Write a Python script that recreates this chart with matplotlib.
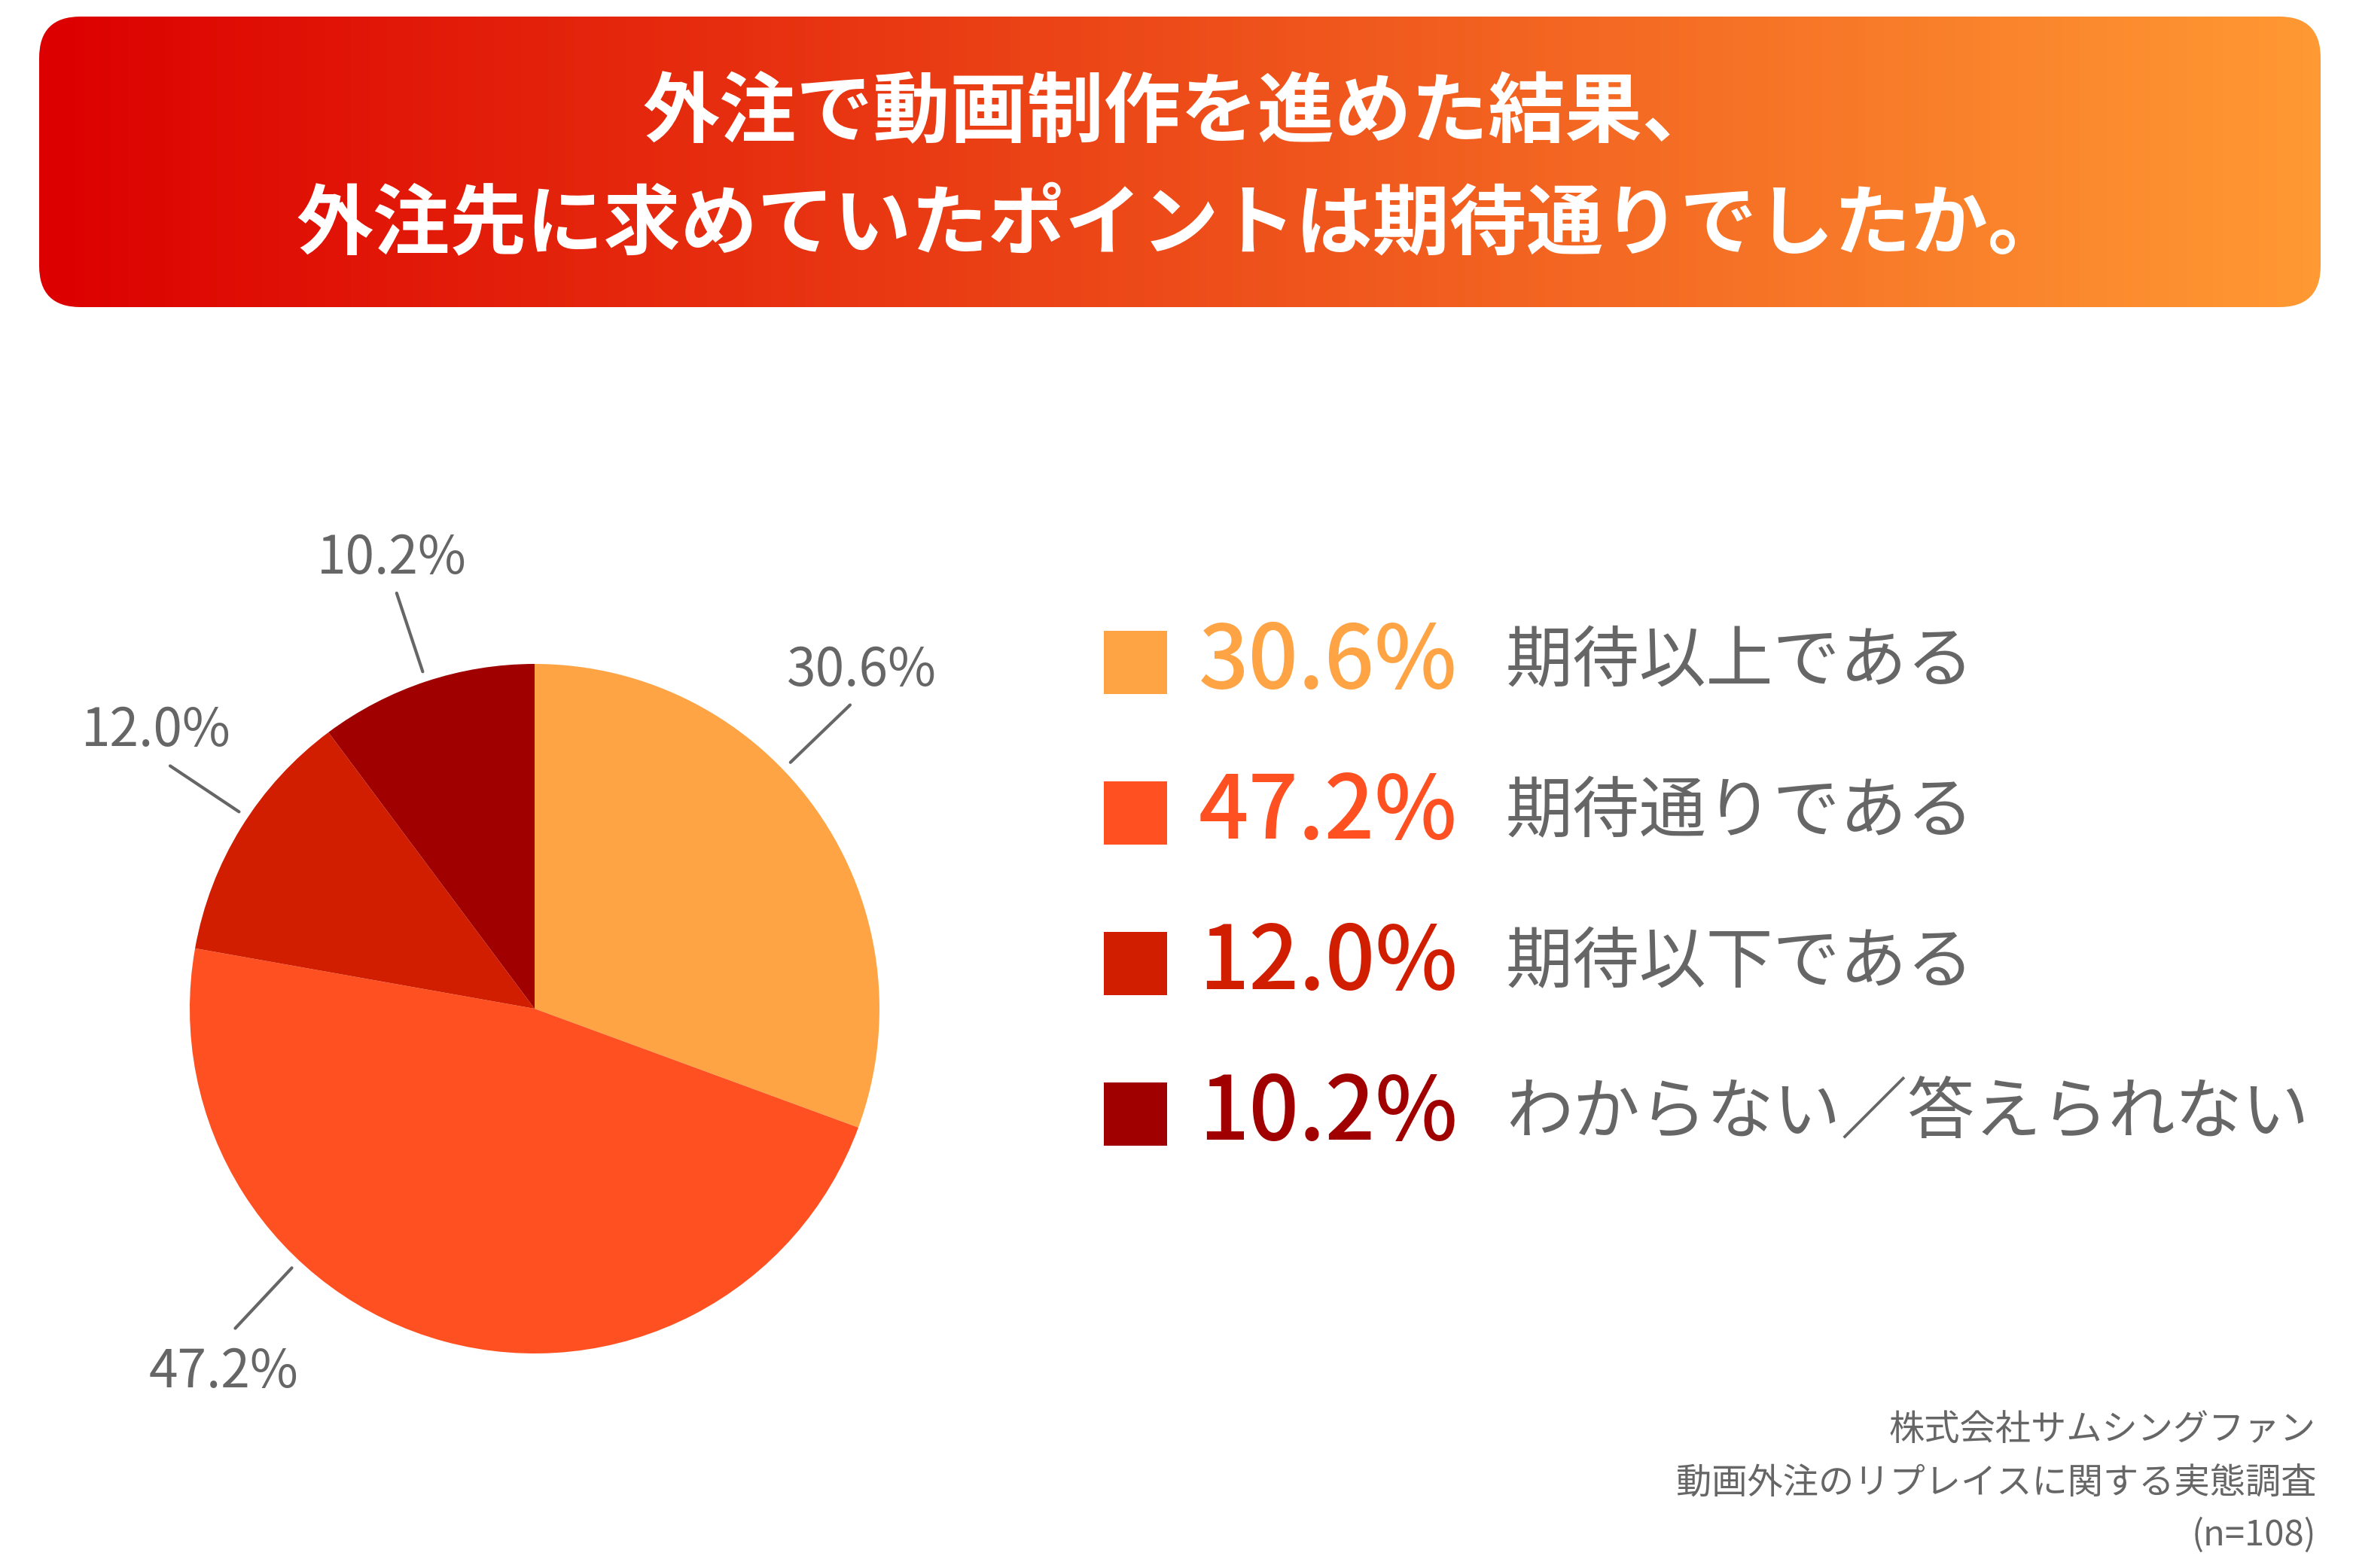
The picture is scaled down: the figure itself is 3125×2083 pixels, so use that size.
import numpy as np
import matplotlib
matplotlib.use("Agg")
import matplotlib.pyplot as plt
from matplotlib.patches import FancyBboxPatch, Rectangle
from matplotlib.colors import LinearSegmentedColormap

plt.rcParams["font.family"] = ["Noto Sans CJK JP", "DejaVu Sans"]

W, H = 3125, 2083

title_lines = ["外注で動画制作を進めた結果、", "外注先に求めていたポイントは期待通りでしたか。"]
categories = ["期待以上である", "期待通りである", "期待以下である", "わからない／答えられない"]
values = [30.6, 47.2, 12.0, 10.2]
colors = ["#FFA444", "#FF5022", "#D21E00", "#A00000"]
label_shift = [9, -28, -2, 0]   # degrees, leader line offset from slice middle
source_lines = ["株式会社サムシングファン", "動画外注のリプレイスに関する実態調査", "(n=108)"]

GRAY = "#666666"

fig = plt.figure(figsize=(W / 100, H / 100), dpi=100)
ax = fig.add_axes([0, 0, 1, 1])


def Y(y_img):
    return H - y_img


# pie
cx, cy, r = 710, Y(1340), 458
wedges, _ = ax.pie(values, colors=colors, startangle=90, counterclock=False,
                   center=(cx, cy), radius=r, frame=True,
                   wedgeprops=dict(linewidth=0))
ax.set_xlim(0, W)
ax.set_ylim(0, H)
ax.set_aspect("equal")
ax.axis("off")

for w, v, s in zip(wedges, values, label_shift):
    ang = np.deg2rad((w.theta1 + w.theta2) / 2 + s)
    ux, uy = np.cos(ang), np.sin(ang)
    ex, ey = cx + ux * r * 1.27, cy + uy * r * 1.27
    ax.plot([cx + ux * r * 1.03, ex], [cy + uy * r * 1.03, ey],
            color=GRAY, lw=3, solid_capstyle="round")
    ty = ey + 26 if uy > 0 else ey - 78
    ax.text(ex + ux * 22, ty, f"{v:.1f}%", color=GRAY, fontsize=50,
            ha="center", va="baseline")

# title banner with gradient
bx0, bx1, by0, by1 = 52, 3082, 22, 408
grad = LinearSegmentedColormap.from_list("banner", ["#DC0000", "#FF9933"])
img = ax.imshow(np.linspace(0, 1, 512)[None, :], cmap=grad, aspect="auto",
                extent=[bx0, bx1, Y(by1), Y(by0)], zorder=1)
box = FancyBboxPatch((bx0, Y(by1)), bx1 - bx0, by1 - by0,
                     boxstyle="round,pad=0,rounding_size=55",
                     facecolor="none", edgecolor="none", transform=ax.transData)
ax.add_patch(box)
img.set_clip_path(box)
ax.set_xlim(0, W)
ax.set_ylim(0, H)

for i, line in enumerate(title_lines):
    ax.text(1568, Y(150 + i * 150), line, color="white", fontsize=73.5,
            fontweight="bold", ha="center", va="center", zorder=3)

# legend
row0, step = 880, 200
for i, (cat, v, c) in enumerate(zip(categories, values, colors)):
    yc = Y(row0 + i * step)
    ax.add_patch(Rectangle((1466, yc - 42), 84, 84, facecolor=c, edgecolor="none"))
    ax.text(1592, yc, f"{v:.1f}%", color=c, fontsize=84, fontweight="medium",
            ha="left", va="center")
    ax.text(2000, yc, cat, color=GRAY, fontsize=64, ha="left", va="center")

# source note
for i, line in enumerate(source_lines):
    ax.text(3076, Y(1900 + i * 70), line, color=GRAY, fontsize=34,
            ha="right", va="center")

fig.savefig("out.png", dpi=100, facecolor="white")
